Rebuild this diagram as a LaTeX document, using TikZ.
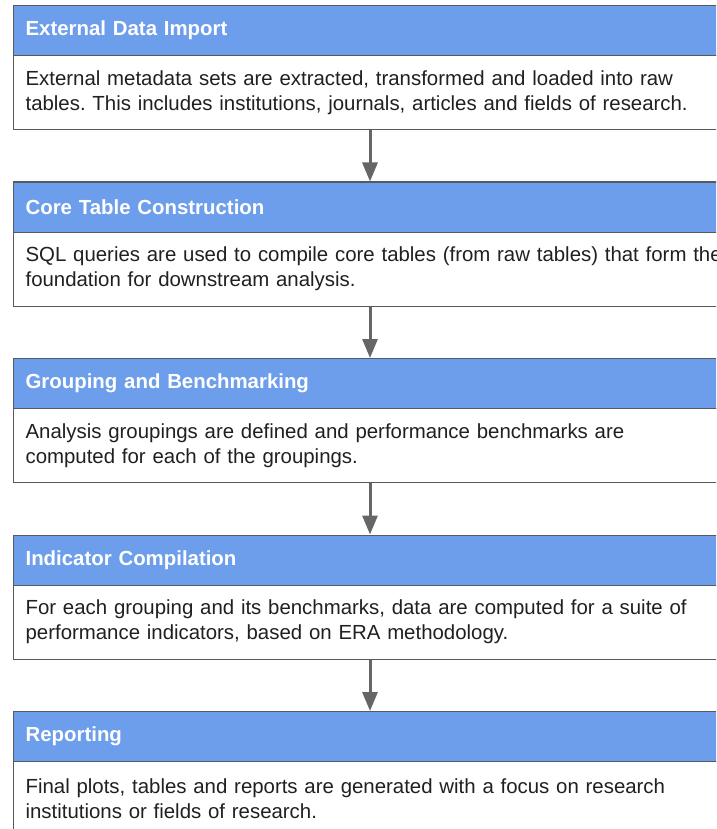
\documentclass[tikz,border=0pt]{standalone}
\usepackage{fontspec}
\setmainfont{Liberation Sans}
\usetikzlibrary{arrows.meta}
\definecolor{hdr}{HTML}{6D9EEB}
\definecolor{edge}{HTML}{595959}
\definecolor{arrcol}{HTML}{666666}
\definecolor{txt}{HTML}{202020}
\frenchspacing
\begin{document}
\begin{tikzpicture}[x=1pt,y=-1pt,
  hdrbox/.style={draw=edge, line width=1.2pt, fill=hdr, anchor=north west,
    minimum width=785pt, minimum height=50pt, text width=760pt,
    inner xsep=12.5pt, inner ysep=0pt, align=left, text=white,
    font=\fontsize{20.4}{25}\selectfont\bfseries},
  bodybox/.style={draw=edge, line width=1.2pt, fill=white, anchor=north west,
    minimum width=785pt, minimum height=74pt, text width=760pt,
    inner xsep=12.5pt, inner ysep=0pt, align=left, text=txt,
    font=\fontsize{20.4}{25}\selectfont},
  flow/.style={draw=arrcol, line width=3pt, -{Triangle[width=15pt,length=19pt]}}]
\useasboundingbox (0,0) rectangle (716,829);
\clip (0,0) rectangle (716,829);
\coordinate (ax) at (370,0);

\node[hdrbox] (h1) at (12.5,5) {External Data Import};
\node[bodybox] (b1) at (12.5,55) {External metadata sets are extracted, transformed and loaded into raw\\tables. This includes institutions, journals, articles and fields of research.};

\node[hdrbox] (h2) at (12.5,181.5) {Core Table Construction};
\node[bodybox] (b2) at (12.5,231.5) {SQL queries are used to compile core tables (from raw tables) that form the\\foundation for downstream analysis.};

\node[hdrbox] (h3) at (12.5,358) {Grouping and Benchmarking};
\node[bodybox] (b3) at (12.5,408) {Analysis groupings are defined and performance benchmarks are\\computed for each of the groupings.};

\node[hdrbox] (h4) at (12.5,534.5) {Indicator Compilation};
\node[bodybox] (b4) at (12.5,584.5) {For each grouping and its benchmarks, data are computed for a suite of\\performance indicators, based on ERA methodology.};

\node[hdrbox] (h5) at (12.5,711) {Reporting};
\node[bodybox] (b5) at (12.5,761) {Final plots, tables and reports are generated with a focus on research\\institutions or fields of research.};

\draw[flow] (b1.south -| ax) -- (h2.north -| ax);
\draw[flow] (b2.south -| ax) -- (h3.north -| ax);
\draw[flow] (b3.south -| ax) -- (h4.north -| ax);
\draw[flow] (b4.south -| ax) -- (h5.north -| ax);
\end{tikzpicture}
\end{document}
